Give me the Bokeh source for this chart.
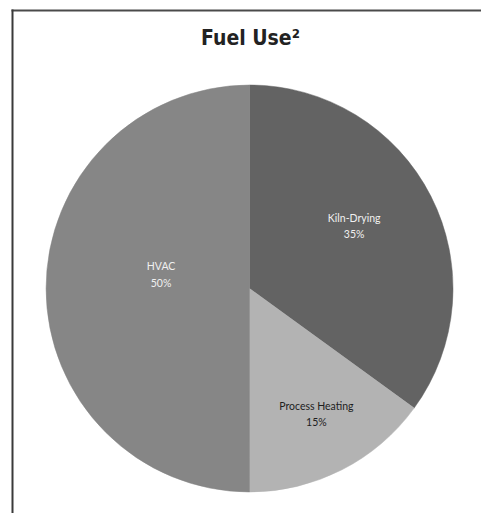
import math
from bokeh.plotting import figure
from bokeh.models import Range1d, ColumnDataSource
from bokeh.core.properties import value
from bokeh.embed import file_html
from bokeh.resources import INLINE

# ---- data ----
categories = ["Kiln-Drying", "Process Heating", "HVAC"]
shares = [35, 15, 50]
title_text = "Fuel Use\u00b2"

# ---- style ----
colors = ["#636363", "#b3b3b3", "#868686"]
label_colors = ["#f0f0f0", "#1e1e1e", "#f0f0f0"]
label_radius_frac = [0.60, 0.70, 0.44]
label_angle_shift = [4, 1, -9]  # degrees tweak

W, H = 481, 513
cx, cy, R = 249, H - 288, 203.5

p = figure(width=W, height=H, x_range=Range1d(0, W), y_range=Range1d(0, H),
           output_backend="svg", toolbar_location=None, min_border=0,
           outline_line_color=None)
p.axis.visible = False
p.grid.visible = False
p.background_fill_color = "white"
p.border_fill_color = "white"

# angles: clockwise starting from 12 o'clock
total = sum(shares)
starts, ends, mids = [], [], []
a = math.pi / 2
for v in shares:
    sweep = 2 * math.pi * v / total
    ends.append(a)
    starts.append(a - sweep)
    mids.append(a - sweep / 2)
    a -= sweep

src = ColumnDataSource(dict(cat=categories, start=starts, end=ends, color=colors))
p.wedge(x=cx, y=cy, radius=R, start_angle="start", end_angle="end",
        color="color", line_color="color", line_width=0.5, source=src)

# labels
lx, ly, ltxt = [], [], []
for cat, v, m, f, sh in zip(categories, shares, mids, label_radius_frac, label_angle_shift):
    ang = m + math.radians(sh)
    lx.append(cx + f * R * math.cos(ang))
    ly.append(cy + f * R * math.sin(ang))
    ltxt.append(f"{cat}\n{v}%")
lsrc = ColumnDataSource(dict(x=lx, y=ly, t=ltxt, c=label_colors))
p.text(x="x", y="y", text="t", text_color="c", source=lsrc,
       text_font=value("Lato"), text_font_size="10.5px",
       text_align="center", text_baseline="middle", text_line_height=1.35)

# title
p.text(x=[cx + 1], y=[H - 37], text=[title_text], text_font=value("DejaVu Sans Condensed"),
       text_font_style="bold", text_font_size="21px", text_color="#222222",
       text_align="center", text_baseline="middle")

# chart-area border (top and left edges visible)
p.segment(x0=[11], y0=[H - 10], x1=[W], y1=[H - 10], line_color="#4a4a4a", line_width=2)
p.segment(x0=[12], y0=[H - 9], x1=[12], y1=[0], line_color="#3a3a3a", line_width=2)

open("out.html", "w").write(file_html(p, INLINE))
